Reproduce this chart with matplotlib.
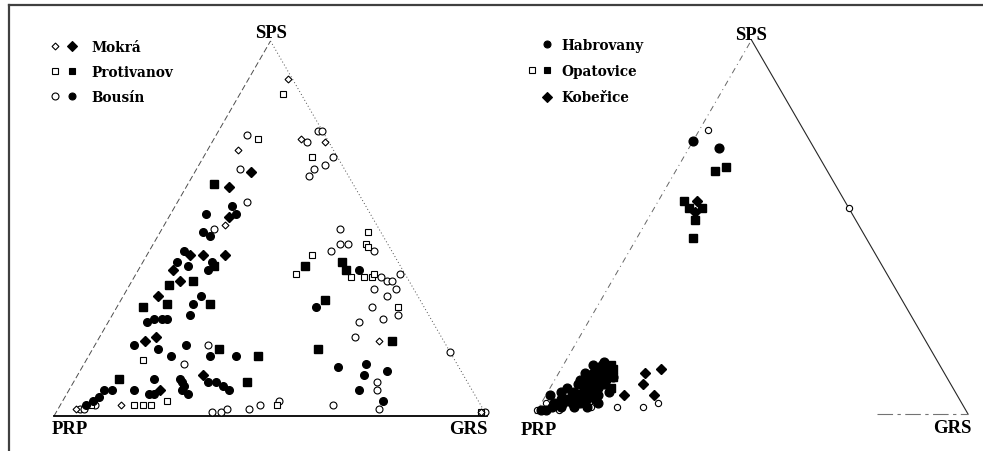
import matplotlib
matplotlib.use("Agg")
import matplotlib.pyplot as plt
from matplotlib.lines import Line2D
from matplotlib.legend_handler import HandlerTuple
import numpy as np

# compositions as (SPS %, GRS %); PRP = 100 - SPS - GRS
# left diagram
mokra_filled = [(65, 13), (61, 10), (53, 14), (43, 10), (43, 13), (43, 18), (39, 8), (36, 11),
                (32, 8), (21, 13), (20, 11), (7, 21), (11, 29)]
mokra_open = [(74, 20), (73, 26), (71, 7), (3, 14), (20, 65), (51, 14), (2, 4), (1, 98), (90, 9)]
protivanov_filled = [(62, 6), (40, 17), (35, 9), (36, 14), (29, 6), (30, 11), (18, 29), (16, 39),
                     (10, 10), (9, 40), (41, 46), (39, 48), (40, 38), (31, 47), (18, 52), (20, 68),
                     (30, 21)]
protivanov_open = [(86, 10), (74, 10), (69, 25), (49, 48), (46, 49), (45, 50), (43, 38), (38, 37),
                   (37, 50), (37, 53), (37, 55), (38, 55), (29, 65), (15, 13), (3, 19), (4, 24),
                   (3, 21), (3, 17), (1, 98), (3, 7), (3, 50)]
bousin_filled = [(56, 13), (54, 15), (54, 8), (49, 10), (48, 12), (44, 8), (41, 8), (40, 11),
                 (41, 16), (39, 16), (32, 18), (30, 17), (26, 10), (25, 9), (26, 12), (26, 13),
                 (27, 18), (19, 9), (18, 15), (19, 21), (16, 19), (16, 28), (16, 34), (7, 8),
                 (7, 10), (5, 8), (7, 15), (6, 19), (6, 20), (10, 18), (10, 24), (9, 25), (8, 26),
                 (7, 26), (6, 28), (9, 31), (9, 33), (8, 35), (7, 37), (39, 51), (29, 46), (13, 59),
                 (14, 65), (11, 66), (12, 71), (7, 67), (4, 74), (3, 6), (4, 7)]
bousin_open = [(76, 23), (76, 24), (73, 22), (69, 30), (67, 29), (66, 27), (64, 27), (50, 41),
               (46, 43), (46, 45), (44, 42), (44, 52), (37, 57), (36, 59), (36, 60), (34, 62),
               (38, 61), (34, 57), (32, 61), (29, 59), (27, 66), (26, 63), (25, 58), (21, 59),
               (17, 83), (9, 70), (7, 71), (2, 74), (3, 63), (4, 50), (1, 36), (1, 38), (2, 39),
               (2, 44), (3, 46), (14, 23), (75, 7), (66, 10), (57, 16), (50, 12), (19, 26),
               (2, 5), (2, 6), (3, 8), (1, 99)]

# right diagram
habrovany_filled = [(73, 0), (71, 7), (14, 9), (13, 7), (11, 6), (9, 6), (8, 6), (10, 11), (9, 11),
                    (10, 13), (6, 14), (5, 12), (5, 10), (4, 5), (3, 7), (5, 8), (5, 1), (3, 3),
                    (2, 5), (1, 2), (1, 1), (2, 11), (3, 13), (7, 4), (5, 6), (6, 6), (8, 9),
                    (11, 9), (6, 9), (4, 10), (7, 8), (9, 8), (12, 9), (3, 9), (4, 4), (6, 3),
                    (2, 8), (10, 9), (8, 12), (7, 11), (11, 11), (8, 7), (9, 9), (10, 10),
                    (12, 10), (13, 9), (12, 8), (6, 8), (7, 9), (4, 8), (5, 9), (6, 11), (8, 10),
                    (9, 12), (4, 6), (3, 5), (2, 3), (11, 8), (13, 10)]
opatovice_filled = [(65, 9), (66, 11), (57, 6), (55, 8), (55, 11), (52, 11), (47, 13), (13, 11),
                    (12, 12), (7, 14), (4, 12), (10, 13)]
opatovice_open = [(76, 2), (55, 45), (3, 27), (2, 18), (2, 24), (1, 0), (3, 1), (1, 5), (2, 12)]
koberice_filled = [(57, 9), (54, 10), (11, 20), (12, 23), (8, 21), (5, 25), (5, 18)]

H = np.sqrt(3) / 2


def to_xy(points):
    pts = np.array(points, dtype=float)
    sps, grs = pts[:, 0] / 100, pts[:, 1] / 100
    return grs + sps / 2, sps * H


def scatter(ax, points, marker, filled, ms):
    x, y = to_xy(points)
    if filled:
        ax.plot(x, y, ls="none", marker=marker, ms=ms, mfc="black", mec="black", clip_on=False)
    else:
        ax.plot(x, y, ls="none", marker=marker, ms=ms, mfc="white", mec="black", mew=0.8,
                clip_on=False)


W, HGT = 983, 452
fig = plt.figure(figsize=(9.83, 4.52), dpi=100)
plt.rcParams['font.family'] = ['Liberation Serif', 'DejaVu Serif']

# left axes: PRP (54,417) GRS (487,417); right axes: PRP (535,415) GRS (968,415)
axl = fig.add_axes([54 / W, (HGT - 417) / HGT, 433 / W, 375 / HGT])
axr = fig.add_axes([535 / W, (HGT - 415) / HGT, 433 / W, 374 / HGT])
for ax in (axl, axr):
    ax.set_xlim(0, 1)
    ax.set_ylim(0, H)
    ax.axis("off")

# triangle frames (scan-like line styles)
axl.plot([0, 0.5], [0, H], color="0.3", lw=0.7, ls=(0, (6, 3)), clip_on=False)
axl.plot([0.5, 1], [H, 0], color="0.3", lw=0.7, ls=(0, (1, 2.5)), clip_on=False)
axl.plot([0, 1], [0, 0], color="black", lw=1.3, clip_on=False)

axr.plot([0, 0.5], [0, H], color="0.4", lw=0.7, ls=(0, (6, 4, 1, 4)), clip_on=False)
axr.plot([0.5, 1], [H, 0], color="0.15", lw=0.8, clip_on=False)
axr.plot([0.79, 1], [0, 0], color="0.45", lw=0.8, ls=(0, (14, 4, 3, 4)), clip_on=False)

# open first so filled ones sit on top
scatter(axl, bousin_open, "o", False, 5)
scatter(axl, protivanov_open, "s", False, 5)
scatter(axl, mokra_open, "D", False, 3.5)
scatter(axl, bousin_filled, "o", True, 5.5)
scatter(axl, protivanov_filled, "s", True, 5.2)
scatter(axl, mokra_filled, "D", True, 5)

scatter(axr, opatovice_open, "o", False, 4.5)
scatter(axr, habrovany_filled, "o", True, 6.3)
scatter(axr, opatovice_filled, "s", True, 5.6)
scatter(axr, koberice_filled, "D", True, 5.5)

lab = dict(fontsize=13.5, fontweight="bold", ha="center", va="center")
axl.text(0.5, H + 0.019, "SPS", **lab)
axl.text(0.037, -0.028, "PRP", **lab)
axl.text(0.956, -0.028, "GRS", **lab)
axr.text(0.5, H + 0.012, "SPS", **lab)
axr.text(0.009, -0.037, "PRP", **lab)
axr.text(0.963, -0.032, "GRS", **lab)


# legends
def mk(marker, filled, ms):
    return Line2D([], [], ls="none", marker=marker, ms=ms, mfc="black" if filled else "white",
                  mec="black", mew=0.8)


blank = Line2D([], [], ls="none")
legfont = dict(family="DejaVu Serif", weight="bold", size=9.8)
fig.legend([(mk("D", False, 3.5), mk("D", True, 5)),
            (mk("s", False, 5), mk("s", True, 5)),
            (mk("o", False, 5), mk("o", True, 5))],
           ["Mokrá", "Protivanov", "Bousín"],
           handler_map={tuple: HandlerTuple(ndivide=None, pad=0)},
           loc="upper left", bbox_to_anchor=(47 / W, 1 - 41 / HGT), frameon=False,
           prop=legfont, handlelength=2.4, handletextpad=0.85, labelspacing=0.8, borderpad=0,
           borderaxespad=0)
fig.legend([(blank, mk("o", True, 5)),
            (mk("s", False, 5), mk("s", True, 5)),
            (blank, mk("D", True, 5))],
           ["Habrovany", "Opatovice", "Kobeřice"],
           handler_map={tuple: HandlerTuple(ndivide=None, pad=0)},
           loc="upper left", bbox_to_anchor=(524 / W, 1 - 39 / HGT), frameon=False,
           prop=legfont, handlelength=2.3, handletextpad=0.45, labelspacing=0.9, borderpad=0,
           borderaxespad=0)

# frame of the scanned page
fig.add_artist(Line2D([9 / W, 9 / W], [0, 1 - 6 / HGT], color="0.25", lw=1.6, transform=fig.transFigure))
fig.add_artist(Line2D([9 / W, 1], [1 - 6 / HGT, 1 - 6 / HGT], color="0.25", lw=1.6, transform=fig.transFigure))

fig.savefig("out.png", dpi=100)
